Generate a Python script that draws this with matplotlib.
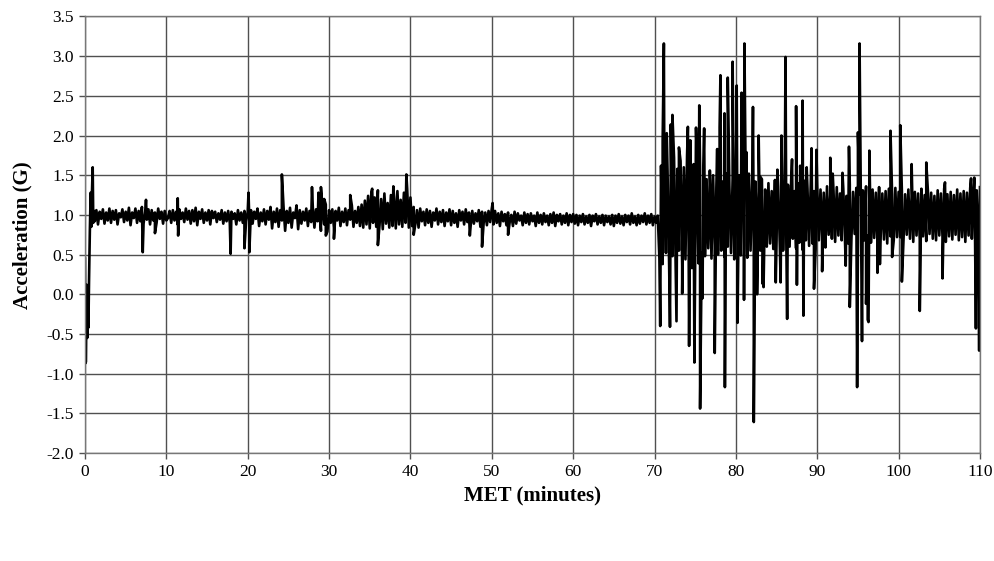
import numpy as np
import matplotlib
matplotlib.use('Agg')
import matplotlib.pyplot as plt

plt.rcParams['font.family'] = ['Liberation Serif', 'DejaVu Serif']
plt.rcParams['axes.unicode_minus'] = False

# launch transient (minutes, G)
launch_t = [0.0, 0.05, 0.12, 0.2, 0.28, 0.35, 0.42, 0.5, 0.6, 0.7, 0.78, 0.85, 0.95, 1.02, 1.1]
launch_v = [0.45, -0.87, -0.85, 0.12, -0.55, 0.10, -0.42, 0.18, 0.80, 1.28, 0.85, 1.25, 1.60, 0.90, 1.05]

# sampled every 0.2 min, start time of each block
calm1_start = 1.2
calm1 = [0.92, 1.06, 0.88, 1.04, 0.95, 1.07, 0.89, 1.03, 0.93, 1.08,
         0.90, 1.05, 0.94, 1.06, 0.88, 1.02, 0.97, 1.07, 0.91, 1.04,
         0.93, 1.09, 0.87, 1.03, 0.96, 1.08, 0.90, 1.05, 0.92, 1.10,
         0.89, 1.04, 0.94, 1.07, 0.88, 1.06, 0.93, 1.03, 0.90, 1.08,
         0.95, 1.04, 0.89, 1.05, 0.93]
calm2_start = 10.2
calm2 = [0.96, 1.05, 0.90, 1.06, 0.93, 1.04, 0.88, 1.07, 0.95, 1.03,
         0.91, 1.08, 0.94, 1.05, 0.89, 1.06, 0.92, 1.09, 0.87, 1.04,
         0.95, 1.07, 0.90, 1.03, 0.93, 1.06, 0.88, 1.05, 0.96, 1.04,
         0.91, 1.02, 0.94, 1.06, 0.89, 1.03, 0.92, 1.05, 0.90, 1.04,
         0.95, 1.02, 0.88, 1.06, 0.93, 1.03, 0.90, 1.05, 0.92, 1.04]
calm3_start = 20.2
calm3 = [0.93, 1.06, 0.89, 1.04, 0.95, 1.08, 0.86, 1.03, 0.92, 1.07,
         0.88, 1.05, 0.94, 1.10, 0.83, 1.04, 0.91, 1.08, 0.85, 1.06,
         0.93, 1.11, 0.80, 1.05, 0.90, 1.09, 0.84, 1.03, 0.96, 1.12,
         0.82, 1.06, 0.89, 1.04, 0.93, 1.08, 0.86, 1.05, 0.91, 1.10,
         0.84, 1.07, 0.92, 1.15, 0.80, 1.09, 0.88, 1.13, 0.79, 1.06]
calm4_start = 30.2
calm4 = [0.90, 1.07, 0.84, 1.05, 0.93, 1.09, 0.86, 1.04, 0.91, 1.08,
         0.87, 1.06, 0.94, 1.12, 0.85, 1.05, 0.90, 1.10, 0.86, 1.13,
         0.84, 1.18, 0.88, 1.24, 0.83, 1.29, 0.90, 1.22, 0.85, 1.31,
         0.87, 1.20, 0.82, 1.27, 0.89, 1.15, 0.84, 1.25, 0.86, 1.21,
         0.83, 1.30, 0.88, 1.19, 0.85, 1.28, 0.90, 1.33, 0.84, 1.22]
calm5_start = 40.2
calm5 = [0.86, 1.10, 0.88, 1.06, 0.84, 1.08, 0.92, 1.04, 0.87, 1.07,
         0.90, 1.05, 0.85, 1.03, 0.93, 1.08, 0.88, 1.04, 0.91, 1.06,
         0.86, 1.03, 0.92, 1.07, 0.87, 1.05, 0.90, 1.02, 0.85, 1.06,
         0.93, 1.04, 0.88, 1.07, 0.91, 1.03, 0.86, 1.05, 0.89, 1.02,
         0.92, 1.06, 0.85, 1.04, 0.90, 1.03, 0.87, 1.05, 0.91, 1.08]
calm6_start = 50.2
calm6 = [0.88, 1.05, 0.90, 1.02, 0.86, 1.04, 0.92, 1.01, 0.87, 1.03,
         0.91, 1.00, 0.86, 1.04, 0.89, 1.02, 0.93, 0.99, 0.87, 1.03,
         0.90, 1.01, 0.88, 1.02, 0.92, 0.99, 0.86, 1.03, 0.90, 1.00,
         0.88, 1.02, 0.91, 0.99, 0.87, 1.01, 0.90, 1.03, 0.86, 1.00,
         0.92, 1.01, 0.88, 0.99, 0.90, 1.02, 0.87, 1.00, 0.91, 1.01]
calm7_start = 60.2
calm7 = [0.89, 1.00, 0.87, 0.99, 0.91, 1.01, 0.88, 0.98, 0.90, 1.00,
         0.86, 0.99, 0.92, 1.01, 0.88, 0.98, 0.90, 1.00, 0.87, 0.99,
         0.91, 0.98, 0.88, 1.00, 0.86, 0.99, 0.90, 1.01, 0.89, 0.98,
         0.87, 1.00, 0.91, 0.99, 0.88, 1.02, 0.90, 0.98, 0.87, 1.00,
         0.89, 0.99, 0.91, 1.02, 0.88, 0.99, 0.90, 1.01, 0.87, 0.98,
         0.90, 0.99]
chaosA_start = 70.6
chaosA = [0.45, 1.62, 0.38, 1.70, 0.52, 1.55, 0.35, 1.66, 0.48, 1.72,
          0.40, 1.58, 0.55, 1.68, 0.36, 1.60, 0.44, 1.75, 0.50, 1.52,
          0.33, 1.64, 0.47, 1.70, 0.39, 1.57, 0.52, 1.63]
chaosB_start = 76.2
chaosB = [0.48, 1.45, 0.58, 1.38, 0.45, 1.50, 0.62, 1.35, 0.50, 1.48,
          0.55, 1.42, 0.47, 1.52, 0.60, 1.36, 0.52, 1.46, 0.44, 1.40,
          0.58, 1.50, 0.49, 1.38, 0.62, 1.44, 0.46, 1.52, 0.55, 1.40]
chaosC_start = 82.2
chaosC = [0.58, 1.42, 0.66, 1.35, 0.55, 1.45, 0.70, 1.32, 0.60, 1.40,
          0.64, 1.30, 0.57, 1.44, 0.68, 1.36, 0.62, 1.42, 0.55, 1.34,
          0.66, 1.38, 0.60, 1.45, 0.70, 1.30, 0.58, 1.40, 0.65, 1.36,
          0.56, 1.43, 0.68, 1.33, 0.61, 1.38, 0.64, 1.30, 0.57, 1.35]
chaosD_start = 90.2
chaosD = [0.68, 1.32, 0.72, 1.28, 0.65, 1.36, 0.75, 1.25, 0.70, 1.30,
          0.66, 1.35, 0.74, 1.27, 0.68, 1.33, 0.72, 1.24, 0.64, 1.38,
          0.70, 1.29, 0.76, 1.34, 0.66, 1.26, 0.72, 1.31, 0.68, 1.36,
          0.74, 1.25, 0.65, 1.32, 0.71, 1.28, 0.67, 1.35, 0.75, 1.27,
          0.69, 1.30, 0.64, 1.33, 0.73, 1.26, 0.68, 1.34, 0.72, 1.29]
chaosE_start = 100.2
chaosE = [0.72, 1.30, 0.68, 1.26, 0.75, 1.32, 0.70, 1.24, 0.66, 1.29,
          0.74, 1.27, 0.69, 1.33, 0.73, 1.25, 0.67, 1.30, 0.76, 1.28,
          0.70, 1.24, 0.68, 1.31, 0.74, 1.27, 0.71, 1.33, 0.66, 1.26,
          0.73, 1.29, 0.69, 1.25, 0.75, 1.32, 0.68, 1.27, 0.72, 1.30,
          0.66, 1.28, 0.74, 1.34, 0.70, 1.26, 0.67, 1.31, 0.73, 1.35]

# isolated spikes (minutes, G)
spike_t = [7.1, 7.5, 8.6, 11.4, 11.45, 17.9, 19.6, 20.1, 20.2, 24.2,
           27.9, 28.7, 29.0, 29.4, 29.6, 30.6, 32.6, 36.0, 35.3, 37.9,
           39.5, 40.4, 47.3, 48.8, 50.1, 52.0,
           70.7, 71.0, 71.15, 71.5, 71.9, 72.0, 72.2, 72.7, 73.0, 73.4,
           74.1, 74.25, 74.4, 74.9, 75.1, 75.5, 75.6, 75.9, 76.1, 76.8,
           77.4, 77.7, 78.0, 78.1, 78.6, 78.65, 79.0, 79.6, 80.1, 80.2,
           80.7, 80.8, 81.0, 81.05, 81.3, 82.1, 82.2, 82.6, 82.8, 83.0,
           83.3, 83.4, 84.9, 85.1, 85.5, 85.6, 86.1, 86.3, 86.9, 87.4,
           87.5, 87.9, 88.2, 88.3, 88.7, 89.3, 89.6, 89.9, 90.6, 91.0,
           91.6, 91.9, 93.1, 93.5, 93.9, 94.0, 94.9, 95.0, 95.2, 95.5,
           96.0, 96.2, 96.3, 96.4, 97.4, 97.7, 99.0, 99.2, 100.2, 100.4,
           101.6, 102.6, 103.4, 105.4, 105.7, 108.9, 109.3, 109.5, 109.9]
spike_v = [0.53, 1.19, 0.77, 1.21, 0.74, 0.51, 0.58, 1.28, 0.53, 1.51,
           1.35, 1.28, 1.35, 1.20, 0.74, 0.70, 1.25, 0.62, 1.33, 1.36,
           1.51, 0.75, 0.74, 0.60, 1.15, 0.75,
           -0.40, 1.93, 3.16, 2.03, -0.41, 2.14, 2.26, -0.34, 1.85, 0.01,
           2.11, -0.65, 1.94, -0.86, 2.10, 2.38, -1.44, -0.05, 2.09, 1.56,
           -0.74, 1.83, 2.10, 2.76, 2.28, -1.17, 2.73, 2.93, 2.63, -0.36,
           2.54, 2.52, -0.07, 3.16, 1.79, 2.36, -1.61, 0.00, 2.00, 1.48,
           0.13, 0.09, 0.15, 1.57, 0.15, 2.00, 2.99, -0.31, 1.70, 2.37,
           0.12, 1.62, 2.44, -0.27, 1.60, 1.84, 0.07, 1.82, 0.29, 0.59,
           1.72, 1.52, 1.53, 0.36, 1.86, -0.16, -1.17, 2.04, 3.16, -0.59,
           -0.12, -0.32, -0.35, 1.81, 0.27, 0.38, 2.06, 0.47, 2.13, 0.16,
           1.64, -0.21, 1.66, 0.20, 1.41, 1.46, 1.47, -0.43, -0.71]

blocks = [(calm1_start, calm1), (calm2_start, calm2), (calm3_start, calm3),
          (calm4_start, calm4), (calm5_start, calm5), (calm6_start, calm6),
          (calm7_start, calm7), (chaosA_start, chaosA), (chaosB_start, chaosB),
          (chaosC_start, chaosC), (chaosD_start, chaosD), (chaosE_start, chaosE)]

t_all = list(launch_t)
v_all = list(launch_v)
for start, vals in blocks:
    t_all += list(start + 0.2 * np.arange(len(vals)))
    v_all += vals
t_all += spike_t
v_all += spike_v

order = np.argsort(np.array(t_all) + 1e-6 * np.arange(len(t_all)), kind='stable')
t_all = np.array(t_all)[order]
v_all = np.array(v_all)[order]

fig = plt.figure(figsize=(9.95, 5.61), dpi=100)
ax = fig.add_axes([0.0854, 0.1925, 0.8995, 0.7781])

ax.plot(t_all, v_all, color='black', lw=1.9)

ax.set_xlim(0, 110)
ax.set_ylim(-2.0, 3.5)
ax.set_xticks(np.arange(0, 111, 10))
ax.set_yticks(np.arange(-2.0, 3.51, 0.5))
ax.yaxis.set_major_formatter(matplotlib.ticker.FormatStrFormatter('%.1f'))
ax.grid(True, color='#505050', lw=1.0)
ax.set_axisbelow(True)
for s in ax.spines.values():
    s.set_color('#777777')
    s.set_linewidth(1.0)
ax.tick_params(direction='out', length=4, width=1, color='#505050',
               labelsize=12.5, pad=4)

ax.set_xlabel('MET (minutes)', fontsize=15, fontweight='bold', labelpad=4)
ax.set_ylabel('Acceleration (G)', fontsize=15, fontweight='bold', labelpad=10)

fig.savefig('out.png', dpi=100)
